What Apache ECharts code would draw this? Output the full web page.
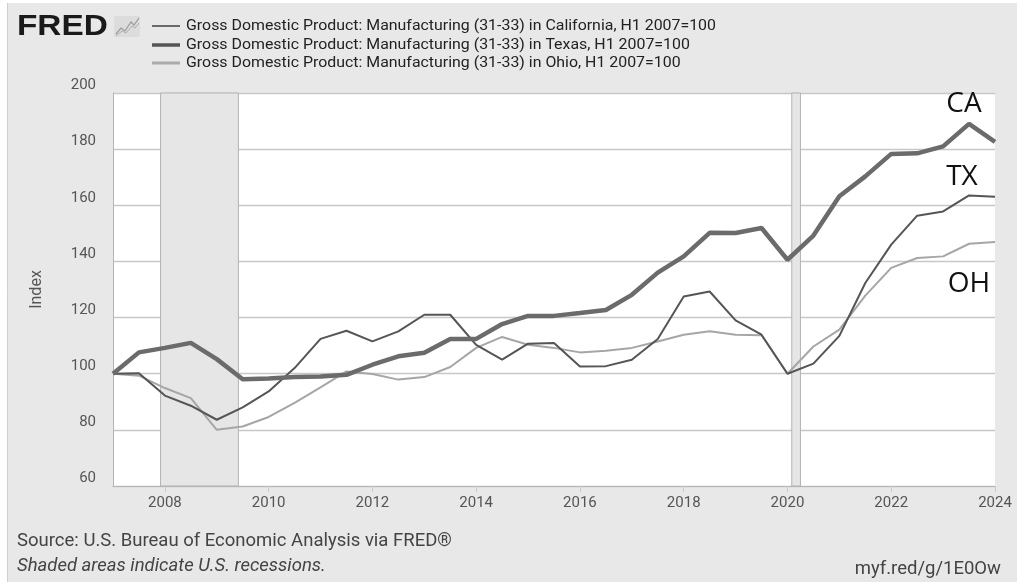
<!DOCTYPE html>
<html>
<head>
<meta charset="utf-8">
<script src="https://cdn.jsdelivr.net/npm/echarts@6/dist/echarts.min.js"></script>
<style>
html,body{margin:0;padding:0;background:#fff;}
#chart{width:1017px;height:582px;}
</style>
</head>
<body>
<div id="chart"></div>
<script>
// Half-year observation dates (H1 / H2), as decimal years
const periods = [2007.0, 2007.5, 2008.0, 2008.5, 2009.0, 2009.5, 2010.0, 2010.5, 2011.0, 2011.5,
  2012.0, 2012.5, 2013.0, 2013.5, 2014.0, 2014.5, 2015.0, 2015.5, 2016.0, 2016.5,
  2017.0, 2017.5, 2018.0, 2018.5, 2019.0, 2019.5, 2020.0, 2020.5, 2021.0, 2021.5,
  2022.0, 2022.5, 2023.0, 2023.5, 2024.0];

// Top (thick) line, annotated "CA"
const caValues = [100, 107.6, 109.2, 111.0, 105.2, 98.0, 98.3, 98.8, 99.0, 99.6,
  103.2, 106.2, 107.5, 112.4, 112.4, 117.7, 120.6, 120.6, 121.6, 122.7,
  128.1, 136.0, 141.8, 150.2, 150.1, 151.9, 140.6, 149.2, 163.2, 170.3,
  178.3, 178.5, 181.0, 189.0, 182.6];

// Middle (thin dark) line, annotated "TX"
const txValues = [100, 100.2, 92.2, 88.6, 83.6, 88.0, 93.7, 102.0, 112.4, 115.3,
  111.5, 115.1, 121.0, 121.0, 110.3, 105.0, 110.7, 110.9, 102.6, 102.7,
  105.0, 112.4, 127.5, 129.3, 119.0, 113.9, 100.0, 103.6, 113.5, 132.3,
  146.0, 156.3, 157.8, 163.5, 163.0];

// Bottom (light) line, annotated "OH"
const ohValues = [100, 99.3, 94.9, 91.3, 80.0, 81.2, 84.6, 89.6, 95.1, 100.8,
  99.9, 97.9, 98.8, 102.4, 109.2, 113.1, 110.3, 109.2, 107.6, 108.2,
  109.2, 111.5, 113.9, 115.1, 113.9, 113.7, 100.0, 109.7, 115.7, 127.8,
  137.7, 141.2, 141.8, 146.3, 146.9];

const xTicks = [2008, 2010, 2012, 2014, 2016, 2018, 2020, 2022, 2024];
const yTicks = [60, 80, 100, 120, 140, 160, 180, 200];

// US recessions (decimal years)
const recessions = [[2007.917, 2009.417], [2020.083, 2020.25]];

const legendLabels = [
  'Gross Domestic Product: Manufacturing (31-33) in California, H1 2007=100',
  'Gross Domestic Product: Manufacturing (31-33) in Texas, H1 2007=100',
  'Gross Domestic Product: Manufacturing (31-33) in Ohio, H1 2007=100'
];
const annotations = ['CA', 'TX', 'OH'];

const pair = vals => periods.map((p, i) => [p, vals[i]]);

const chart = echarts.init(document.getElementById('chart'), null, {renderer: 'canvas'});

const legendStyles = [
  {color: '#6a6a6a', width: 2},
  {color: '#555555', width: 3.5},
  {color: '#ababab', width: 3}
];
const legendY = [26, 45, 63];

const graphics = [];
// white outer margin strips
graphics.push({type: 'rect', shape: {x: 0, y: 0, width: 7, height: 582}, style: {fill: '#ffffff'}, z: 100, silent: true});
graphics.push({type: 'rect', shape: {x: 0, y: 0, width: 1017, height: 3}, style: {fill: '#ffffff'}, z: 100, silent: true});
graphics.push({type: 'line', shape: {x1: 7.5, y1: 3, x2: 7.5, y2: 582}, style: {stroke: '#cfcfcf', lineWidth: 1}, z: 100, silent: true});
// FRED logo
graphics.push({type: 'text', x: 17, y: 27, scaleX: 1.15, originX: 0, originY: 0,
  style: {text: 'FRED', font: 'bold 29px "Liberation Sans", Arial, sans-serif', fill: '#1a1a1a', verticalAlign: 'middle'}, z: 10});
graphics.push({type: 'rect', shape: {x: 114, y: 16, width: 26, height: 21, r: 2}, style: {fill: '#dcdcdc'}, z: 10});
graphics.push({type: 'polyline', shape: {points: [[116, 34], [121, 28], [125, 31], [131, 22], [134, 25], [139, 18]]}, style: {stroke: '#9a9a9a', lineWidth: 1.2, fill: null}, z: 11});
graphics.push({type: 'polyline', shape: {points: [[116, 36], [122, 31], [126, 33], [132, 26], [135, 28], [139, 23]]}, style: {stroke: '#b0b0b0', lineWidth: 1, fill: null}, z: 11});
// legend
legendLabels.forEach((t, i) => {
  graphics.push({type: 'line', shape: {x1: 152, y1: legendY[i], x2: 180, y2: legendY[i]},
    style: {stroke: legendStyles[i].color, lineWidth: legendStyles[i].width}, z: 10});
  graphics.push({type: 'text', x: 186, y: legendY[i], scaleX: 1.06, originX: 0, originY: 0,
    style: {text: t, font: '15px Roboto, sans-serif', fill: '#222222', verticalAlign: 'middle'}, z: 10});
});
// annotations
const annPos = [[964, 104], [962, 177], [969, 284]];
annotations.forEach((t, i) => {
  graphics.push({type: 'text', x: annPos[i][0], y: annPos[i][1],
    style: {text: t, font: '28px "Open Sans", sans-serif', fill: '#111111', align: 'center', verticalAlign: 'middle'}, z: 20});
});
// footer
graphics.push({type: 'text', x: 17, y: 541, style: {text: 'Source: U.S. Bureau of Economic Analysis via FRED\u00AE', font: '18.5px Roboto, sans-serif', fill: '#444444', verticalAlign: 'middle'}, z: 10});
graphics.push({type: 'text', x: 17, y: 566, style: {text: 'Shaded areas indicate U.S. recessions.', font: 'italic 18.5px Roboto, sans-serif', fill: '#444444', verticalAlign: 'middle'}, z: 10});
graphics.push({type: 'text', x: 1001, y: 569, style: {text: 'myf.red/g/1E0Ow', font: '18.5px Roboto, sans-serif', fill: '#444444', align: 'right', verticalAlign: 'middle'}, z: 10});

const option = {
  backgroundColor: '#e8e8e8',
  animation: false,
  grid: {left: 113, right: 22, top: 93, bottom: 96, show: true, backgroundColor: '#ffffff', borderWidth: 0, containLabel: false},
  xAxis: {
    type: 'value', min: 2007, max: 2024,
    axisLine: {show: true, lineStyle: {color: '#b5b5b5', width: 1}},
    axisTick: {show: true, length: 6, lineStyle: {color: '#cccccc'}, customValues: xTicks},
    axisLabel: {color: '#555555', fontSize: 15, fontFamily: 'Roboto, sans-serif', margin: 10, customValues: xTicks, formatter: v => String(v)},
    splitLine: {show: false}
  },
  yAxis: {
    type: 'value', min: 60, max: 200, interval: 20,
    name: 'Index', nameLocation: 'middle', nameGap: 68, nameRotate: 90,
    nameTextStyle: {color: '#555555', fontSize: 16, fontFamily: 'Roboto, sans-serif'},
    axisLine: {show: true, lineStyle: {color: '#b5b5b5', width: 1}},
    axisTick: {show: false},
    axisLabel: {color: '#555555', fontSize: 15, fontFamily: 'Roboto, sans-serif', margin: 17, verticalAlign: 'bottom'},
    splitLine: {show: true, lineStyle: {color: '#c8c8c8', width: 1.3}}
  },
  graphic: {elements: graphics},
  series: [
    {
      name: 'TX', type: 'line', data: pair(txValues), showSymbol: false, z: 3,
      lineStyle: {color: '#555555', width: 2}, itemStyle: {color: '#555555'},
      markArea: {
        silent: true,
        itemStyle: {color: '#e6e6e6', borderColor: '#b3b3b3', borderWidth: 1},
        data: recessions.map(r => [{xAxis: r[0]}, {xAxis: r[1]}])
      }
    },
    {
      name: 'OH', type: 'line', data: pair(ohValues), showSymbol: false, z: 2,
      lineStyle: {color: '#a6a6a6', width: 2}, itemStyle: {color: '#a6a6a6'}
    },
    {
      name: 'CA', type: 'line', data: pair(caValues), showSymbol: false, z: 4,
      lineStyle: {color: '#6b6b6b', width: 4.5}, itemStyle: {color: '#6b6b6b'}
    }
  ]
};
chart.setOption(option);
</script>
</body>
</html>
